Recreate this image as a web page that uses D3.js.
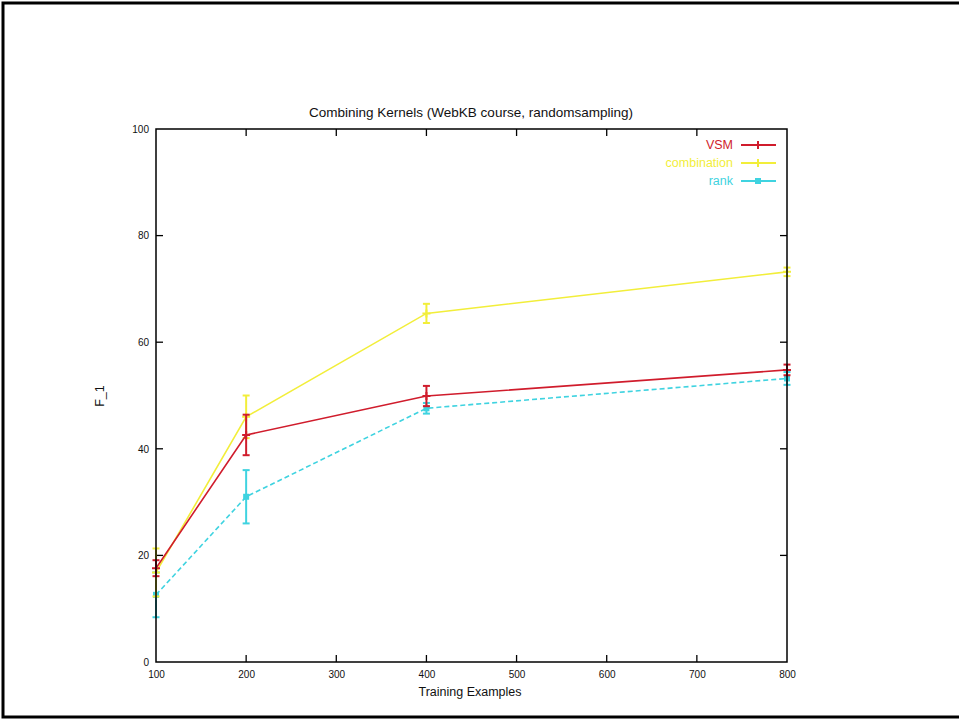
<!DOCTYPE html>
<html>
<head>
<meta charset="utf-8">
<script src="https://cdnjs.cloudflare.com/ajax/libs/d3/7.8.5/d3.min.js"></script>
<style>
  body { margin: 0; background: #fff; }
  svg { display: block; }
  text { font-family: "Liberation Sans Narrow", "Liberation Sans", Arial, sans-serif; }
</style>
</head>
<body>
<div id="chart"></div>
<script>
// training set sizes
var trainSizes = [100, 200, 400, 800];

// F_1 means and error half-widths
var vsmF1 = [17.6, 42.6, 49.9, 54.8];
var vsmErr = [1.5, 3.8, 1.9, 1.0];
var combF1 = [16.8, 46.0, 65.4, 73.2];
var combErr = [4.5, 4.0, 1.8, 0.8];
var rankF1 = [12.6, 31.0, 47.6, 53.2];
var rankErr = [4.2, 5.0, 1.0, 1.2];

var xTicks = [100, 200, 300, 400, 500, 600, 700, 800];
var yTicks = [0, 20, 40, 60, 80, 100];

var series = [
	{name: 'VSM', values: vsmF1, err: vsmErr, color: '#d01c2c', dash: null, mark: 'plus'},
	{name: 'combination', values: combF1, err: combErr, color: '#f2ee3a', dash: null, mark: 'plus'},
	{name: 'rank', values: rankF1, err: rankErr, color: '#3fd3e0', dash: '5,3', mark: 'square'}
];

var W = 959, H = 720;
var M = {left: 156, right: 787, top: 129, bottom: 662};

var svg = d3.select('#chart').append('svg')
	.attr('width', W).attr('height', H);

// outer frame of the slide
svg.append('rect')
	.attr('x', 3).attr('y', 3).attr('width', W + 5).attr('height', 714)
	.attr('fill', 'none').attr('stroke', '#000').attr('stroke-width', 3);

var x = d3.scaleLinear().domain([100, 800]).range([M.left, M.right]);
var y = d3.scaleLinear().domain([0, 100]).range([M.bottom, M.top]);

// ticks point inward, on all four sides (gnuplot style)
var axisG = svg.append('g').attr('font-size', 12.5);

var bottomAxis = d3.axisBottom(x).tickValues(xTicks).tickSize(0).tickPadding(9);
axisG.append('g').attr('transform', 'translate(0,' + M.bottom + ')').call(bottomAxis)
	.call(function(g) { g.select('.domain').remove(); });

var leftAxis = d3.axisLeft(y).tickValues(yTicks).tickSize(0).tickPadding(7);
axisG.append('g').attr('transform', 'translate(' + M.left + ',0)').call(leftAxis)
	.call(function(g) { g.select('.domain').remove(); });

axisG.selectAll('.tick text').attr('fill', '#111');

var ticks = svg.append('g').attr('stroke', '#000').attr('stroke-width', 1.3);
xTicks.slice(1, -1).forEach(function(v) {
	ticks.append('line').attr('x1', x(v)).attr('x2', x(v))
		.attr('y1', M.bottom).attr('y2', M.bottom - 7);
	ticks.append('line').attr('x1', x(v)).attr('x2', x(v))
		.attr('y1', M.top).attr('y2', M.top + 7);
});
yTicks.slice(1, -1).forEach(function(v) {
	ticks.append('line').attr('x1', M.left).attr('x2', M.left + 7)
		.attr('y1', y(v)).attr('y2', y(v));
	ticks.append('line').attr('x1', M.right).attr('x2', M.right - 7)
		.attr('y1', y(v)).attr('y2', y(v));
});

var line = d3.line()
	.x(function(d) { return x(d[0]); })
	.y(function(d) { return y(d[1]); });

function drawMark(g, cx, cy, s) {
	if (s.mark === 'square') {
		g.append('rect').attr('x', cx - 3).attr('y', cy - 3)
			.attr('width', 6).attr('height', 6).attr('fill', s.color);
	} else {
		g.append('path').attr('d', 'M' + (cx - 4) + ',' + cy + 'H' + (cx + 4) +
			'M' + cx + ',' + (cy - 4) + 'V' + (cy + 4))
			.attr('stroke', s.color).attr('stroke-width', 2);
	}
}

// draw back to front so red stays on top like in the picture
[series[2], series[1], series[0]].forEach(function(s) {
	var g = svg.append('g');
	var pts = trainSizes.map(function(t, i) { return [t, s.values[i], s.err[i]]; });
	g.append('path').datum(pts)
		.attr('d', line)
		.attr('fill', 'none')
		.attr('stroke', s.color)
		.attr('stroke-width', 1.6)
		.attr('stroke-dasharray', s.dash);
	pts.forEach(function(p) {
		var px = x(p[0]);
		g.append('line').attr('x1', px).attr('x2', px)
			.attr('y1', y(p[1] - p[2])).attr('y2', y(p[1] + p[2]))
			.attr('stroke', s.color).attr('stroke-width', 2);
		[p[1] - p[2], p[1] + p[2]].forEach(function(v) {
			g.append('line').attr('x1', px - 3.5).attr('x2', px + 3.5)
				.attr('y1', y(v)).attr('y2', y(v))
				.attr('stroke', s.color).attr('stroke-width', 2);
		});
		drawMark(g, px, y(p[1]), s);
	});
});

// plot border
svg.append('rect')
	.attr('x', M.left).attr('y', M.top)
	.attr('width', M.right - M.left).attr('height', M.bottom - M.top)
	.attr('fill', 'none').attr('stroke', '#000').attr('stroke-width', 1.5);

// legend
var legend = svg.append('g').attr('font-size', 12.5);
series.forEach(function(s, i) {
	var ly = 145 + i * 18;
	legend.append('text').attr('x', 733).attr('y', ly + 4)
		.attr('text-anchor', 'end').attr('fill', s.color).text(s.name);
	legend.append('line').attr('x1', 741).attr('x2', 776)
		.attr('y1', ly).attr('y2', ly)
		.attr('stroke', s.color).attr('stroke-width', 1.8);
	drawMark(legend, 758, ly, s);
});

// titles
svg.append('text').attr('x', 471).attr('y', 117)
	.attr('text-anchor', 'middle').attr('font-size', 13.5).attr('fill', '#111')
	.text('Combining Kernels (WebKB course, randomsampling)');
svg.append('text').attr('x', 470).attr('y', 696)
	.attr('text-anchor', 'middle').attr('font-size', 12.5).attr('fill', '#111')
	.text('Training Examples');
svg.append('text')
	.attr('transform', 'translate(104,396) rotate(-90)')
	.attr('text-anchor', 'middle').attr('font-size', 12.5).attr('fill', '#111')
	.text('F_1');
</script>
</body>
</html>
